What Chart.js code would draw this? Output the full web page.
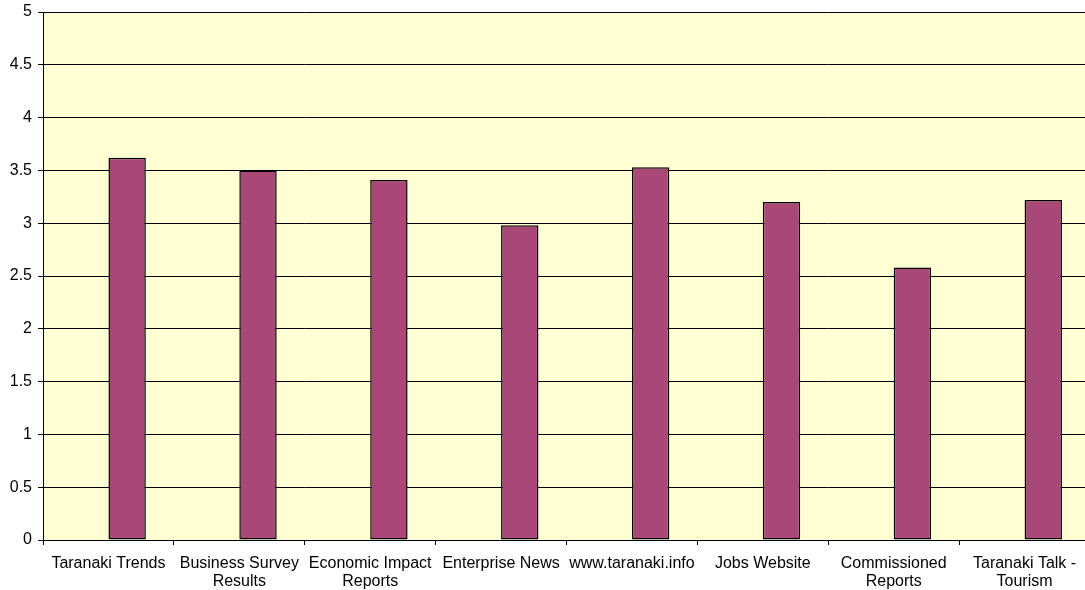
<!DOCTYPE html>
<html>
<head>
<meta charset="utf-8">
<script src="https://cdn.jsdelivr.net/npm/chart.js@4/dist/chart.umd.min.js"></script>
<style>
  html, body { margin: 0; padding: 0; background: #fff; overflow: hidden; }
  #wrap { width: 1090px; height: 590px; }
</style>
</head>
<body>
<div id="wrap"><canvas id="chart" width="1090" height="590"></canvas></div>
<script>
// categories and values
const categories = [
  "Taranaki Trends",
  ["Business Survey", "Results"],
  ["Economic Impact", "Reports"],
  "Enterprise News",
  "www.taranaki.info",
  "Jobs Website",
  ["Commissioned", "Reports"],
  ["Taranaki Talk -", "Tourism"]
];
// first series carries no values in the original, it only takes up its slot
const emptySeries = [null, null, null, null, null, null, null, null];
const ratings = [3.62, 3.5, 3.41, 2.98, 3.53, 3.2, 2.58, 3.22];
const yTicks = [0, 0.5, 1, 1.5, 2, 2.5, 3, 3.5, 4, 4.5, 5];

const plotBg = {
  id: "plotBg",
  beforeDraw(chart) {
    const { ctx, chartArea: a } = chart;
    ctx.save();
    ctx.fillStyle = "#FFFFD3";
    ctx.fillRect(a.left, a.top, a.right - a.left, a.bottom - a.top);
    ctx.restore();
  }
};

const font = { family: "'Liberation Sans', Arial, sans-serif", size: 16, lineHeight: 1.1 };

new Chart(document.getElementById("chart"), {
  type: "bar",
  data: {
    labels: categories,
    datasets: [
      {
        label: "Series 1",
        data: emptySeries,
        backgroundColor: "#A94877",
        borderColor: "#000",
        borderWidth: 1.5,
        borderSkipped: false
      },
      {
        label: "Series 2",
        data: ratings,
        backgroundColor: "#A94877",
        borderColor: "#000",
        borderWidth: 1.5,
        borderSkipped: false
      }
    ]
  },
  options: {
    responsive: false,
    animation: false,
    categoryPercentage: 2 / 3.5,
    barPercentage: 1,
    layout: { padding: { top: 12, right: 0, left: 0, bottom: 0 } },
    plugins: {
      legend: { display: false },
      tooltip: { enabled: false }
    },
    scales: {
      x: {
        grid: {
          offset: true,
          drawOnChartArea: false,
          drawTicks: true,
          tickLength: 5,
          color: "#000"
        },
        border: { color: "#000", width: 1 },
        ticks: {
          color: "#000",
          font,
          padding: 10,
          maxRotation: 0,
          autoSkip: false
        },
        afterFit(scale) {
          scale.height = 50;
          scale.paddingLeft = 0;
          scale.paddingRight = 0;
        }
      },
      y: {
        min: 0,
        max: 5,
        afterBuildTicks(scale) {
          scale.ticks = yTicks.map((v) => ({ value: v }));
        },
        grid: {
          color: "#000",
          lineWidth: 1,
          tickLength: 5
        },
        border: { color: "#000", width: 1 },
        ticks: {
          color: "#000",
          font,
          padding: 6,
          callback: (v) => String(v)
        },
        afterFit(scale) {
          scale.width = 43;
          scale.paddingTop = 0;
          scale.paddingBottom = 0;
        }
      }
    }
  },
  plugins: [plotBg]
});
</script>
</body>
</html>
